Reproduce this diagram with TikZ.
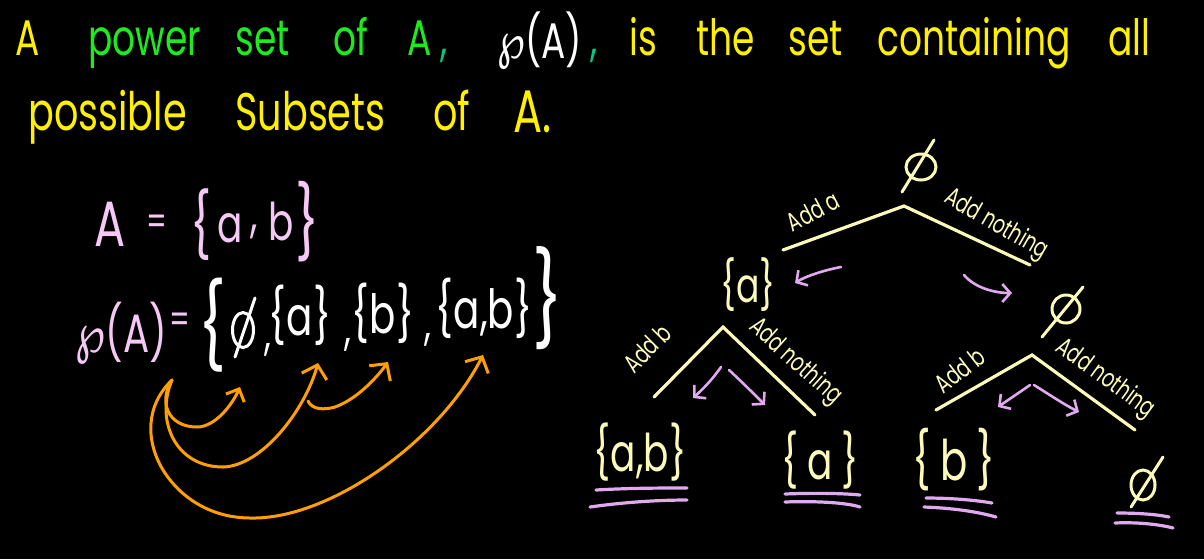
\documentclass[tikz,border=0pt]{standalone}
\usepackage{fontspec}
\setmainfont[FakeStretch=0.72]{Poppins}
\newfontfamily\dejavu[FakeStretch=0.8]{DejaVu Sans}
\usetikzlibrary{arrows.meta,shapes.geometric}
\definecolor{hwyellow}{RGB}{255,240,0}
\definecolor{hwgreen}{RGB}{30,235,30}
\definecolor{hwteal}{RGB}{0,200,140}
\definecolor{hwpink}{RGB}{245,200,245}
\definecolor{hworange}{RGB}{255,160,0}
\definecolor{hwpale}{RGB}{252,250,185}
\definecolor{hwlav}{RGB}{225,170,240}
\newcommand\hwsize[1]{\fontsize{#1}{#1}\selectfont}
\newcommand\wpch{{\dejavu ℘}}
\begin{document}
\begin{tikzpicture}[x=0.5pt,y=-0.5pt,
  ttl/.style={anchor=base west, inner sep=0pt, font=\hwsize{25pt}},
  ttlb/.style={anchor=base west, inner sep=0pt, font=\hwsize{26.5pt}},
  glyph/.style={anchor=center, inner sep=0pt},
  eset/.style={ellipse, draw, line width=1.5pt, inner sep=0pt},
  esl/.style={line width=1.5pt, line cap=round},
  tree/.style={hwpale, line width=1.6pt, line cap=round},
  lbl/.style={hwpale, inner sep=0pt, font=\hwsize{13pt}},
  oarr/.style={hworange, line width=1.5pt, line cap=round, -{Straight Barb[length=6pt,width=13pt]}},
  parr/.style={hwlav, line width=1.3pt, line cap=round, -{Straight Barb[length=4pt,width=9pt]}},
  uline/.style={hwlav, line width=1.6pt, line cap=round}]
\fill[black] (0,0) rectangle (1204,559);
\useasboundingbox (0,0) rectangle (1204,559);
% ---- title line 1
\node[ttl,hwyellow] (t1) at (15,55) {A};
\node[ttl,hwgreen] (t2) at (88,55) {power};
\node[ttl,hwgreen] (t3) at (235,55) {set};
\node[ttl,hwgreen] (t4) at (333,55) {of};
\node[ttl,hwgreen] (t5) at (407,55) {A};
\node[ttl,hwteal] (t6) at (440,55) {,};
\node[ttl,white] (t7) at (497,58) {\wpch(A)};
\node[ttl,hwteal] (t8) at (590,55) {,};
\node[ttl,hwyellow] (t9) at (629,55) {is};
\node[ttl,hwyellow] (t10) at (696,55) {the};
\node[ttl,hwyellow] (t11) at (788,55) {set};
\node[ttl,hwyellow] (t12) at (877,55) {containing};
\node[ttl,hwyellow] (t13) at (1108,55) {all};
% ---- title line 2
\node[ttlb,hwyellow] (u1) at (28,130) {possible};
\node[ttlb,hwyellow] (u2) at (235,130) {Subsets};
\node[ttlb,hwyellow] (u3) at (433,130) {of};
\node[ttl,hwyellow,font=\hwsize{30pt}] (u4) at (513,132) {A.};
% ---- A = {a,b}
\node[glyph,hwpink,font=\hwsize{32pt}] (pA) at (110,224) {A};
\node[glyph,hwpink,font=\hwsize{20pt}] (pEq) at (157,225) {=};
\node[glyph,hwpink,font=\hwsize{32pt}] (pLb) at (201,225) {\{};
\node[glyph,hwpink,font=\hwsize{26pt}] (pa) at (230,228) {a};
\node[glyph,hwpink,font=\hwsize{26pt}] (pc) at (254,232) {,};
\node[glyph,hwpink,font=\hwsize{26pt}] (pb) at (281,221) {b};
\node[glyph,hwpink,font=\hwsize{36pt}] (pRb) at (307,222) {\}};
% ---- p(A) = {...}
\node[ttl,hwpink,font=\hwsize{27pt}] (wpA) at (75,352) {\wpch(A)};
\node[glyph,hwpink,font=\hwsize{20pt}] (wEq) at (180,323) {=};
\node[glyph,white,font=\hwsize{42pt}] (wLb) at (212,325) {\{};
\node[eset,white,minimum width=10.5pt,minimum height=17.5pt] (we) at (243,330) {};
\draw[esl,white] ([shift={(-8,27)}]we.center) -- ([shift={(12,-32)}]we.center);
\node[glyph,white,font=\hwsize{24pt}] (wc1) at (268,350) {,};
\node[glyph,white,font=\hwsize{27pt}] (wsa) at (300,315) {\{a\}};
\node[glyph,white,font=\hwsize{24pt}] (wc2) at (348,345) {,};
\node[glyph,white,font=\hwsize{27pt}] (wsb) at (383,313) {\{b\}};
\node[glyph,white,font=\hwsize{24pt}] (wc3) at (428,340) {,};
\node[glyph,white,font=\hwsize{27pt}] (wsab) at (484,308) {\{a,b\}};
\node[glyph,white,font=\hwsize{46pt}] (wRb) at (548,298) {\}};
% ---- orange arrows
\coordinate (os) at (172,380);
\coordinate (o1) at (240,387);
\coordinate (o2) at (318,363);
\coordinate (o3s) at (308,401);
\coordinate (o3) at (388,362);
\coordinate (o4) at (483,355);
\draw[oarr,-{Straight Barb[length=5pt,width=10pt]}] (os) .. controls (158,402) and (168,427) .. (197,427) .. controls (215,427) and (232,405) .. (o1);
\draw[oarr] (os) .. controls (155,420) and (175,467) .. (223,467) .. controls (262,466) and (305,410) .. (o2);
\draw[oarr] (o3s) .. controls (312,410) and (325,410) .. (335,407) .. controls (355,400) and (375,380) .. (o3);
\draw[oarr] (os) .. controls (146,405) and (145,440) .. (163,470) .. controls (185,505) and (220,518) .. (250,518) .. controls (330,520) and (440,440) .. (o4);
% ---- tree
\node[eset,hwpale,minimum width=15pt,minimum height=13pt] (r) at (921,167) {};
\draw[esl,hwpale] ([shift={(-19,25)}]r.center) -- ([shift={(13,-27)}]r.center);
\coordinate (rA) at (904,206);
\coordinate (rL) at (783,250);
\coordinate (rR) at (1030,265);
\draw[tree] (rL) -- (rA) -- (rR);
\node[lbl,rotate=28] (lra) at (813,211) {Add a};
\node[lbl,rotate=-30] (lrn) at (996,225) {Add nothing};
\node[glyph,hwpale,font=\hwsize{24pt}] (na) at (748,285) {\{a\}};
\node[eset,hwpale,minimum width=14pt,minimum height=14pt] (n0) at (1066,309) {};
\draw[esl,hwpale] ([shift={(-24,28)}]n0.center) -- ([shift={(17,-22)}]n0.center);
\coordinate (pa1s) at (841,267);
\coordinate (pa1e) at (795,283);
\coordinate (pa2s) at (964,275);
\coordinate (pa2e) at (1012,293);
\draw[parr] (pa1s) .. controls (825,270) and (806,276) .. (pa1e);
\draw[parr] (pa2s) .. controls (975,288) and (995,293) .. (pa2e);
% left subtree
\coordinate (aA) at (723,327);
\coordinate (aL) at (654,397);
\coordinate (aR) at (815,415);
\draw[tree] (aL) -- (aA) -- (aR);
\node[lbl,rotate=45] (lab) at (647,348) {Add b};
\node[lbl,rotate=-42] (lan) at (795,362) {Add nothing};
\coordinate (la1s) at (721,367);
\coordinate (la1e) at (693,398);
\coordinate (la2s) at (729,370);
\coordinate (la2e) at (765,405);
\draw[parr] (la1s) .. controls (712,380) and (702,390) .. (la1e);
\draw[parr] (la2s) .. controls (742,382) and (755,395) .. (la2e);
% right subtree
\coordinate (bA) at (1032,355);
\coordinate (bL) at (936,410);
\coordinate (bR) at (1135,430);
\draw[tree] (bL) -- (bA) -- (bR);
\node[lbl,rotate=38] (lbb) at (960,370) {Add b};
\node[lbl,rotate=-36] (lbn) at (1105,379) {Add nothing};
\coordinate (lb1s) at (1030,385);
\coordinate (lb1e) at (998,407);
\coordinate (lb2s) at (1034,385);
\coordinate (lb2e) at (1079,412);
\draw[parr] (lb1s) .. controls (1020,392) and (1008,400) .. (lb1e);
\draw[parr] (lb2s) .. controls (1050,395) and (1065,405) .. (lb2e);
% leaves
\node[glyph,hwpale,font=\hwsize{26pt}] (lfab) at (640,452) {\{a,b\}};
\node[glyph,hwpale,font=\hwsize{26pt}] (lfa) at (820,460) {\{\,a\,\}};
\node[glyph,hwpale,font=\hwsize{28pt}] (lfb) at (954,460) {\{\,b\,\}};
\node[eset,hwpale,minimum width=12pt,minimum height=15pt] (lf0) at (1143,485) {};
\draw[esl,hwpale] ([shift={(-12,22)}]lf0.center) -- ([shift={(20,-28)}]lf0.center);
% underlines
\draw[uline] (596,490) .. controls (630,488) and (660,488) .. (687,488);
\draw[uline] (590,507) .. controls (625,502) and (660,500) .. (687,500);
\draw[uline] (785,494) .. controls (810,493) and (840,493) .. (860,495);
\draw[uline] (785,502) .. controls (810,501) and (845,502) .. (860,507);
\draw[uline] (926,498) .. controls (950,498) and (975,500) .. (992,503);
\draw[uline] (924,507) .. controls (950,508) and (975,511) .. (996,517);
\draw[uline] (1117,513) .. controls (1135,513) and (1155,514) .. (1169,517);
\draw[uline] (1115,523) .. controls (1135,522) and (1158,524) .. (1173,528);
\end{tikzpicture}
\end{document}
